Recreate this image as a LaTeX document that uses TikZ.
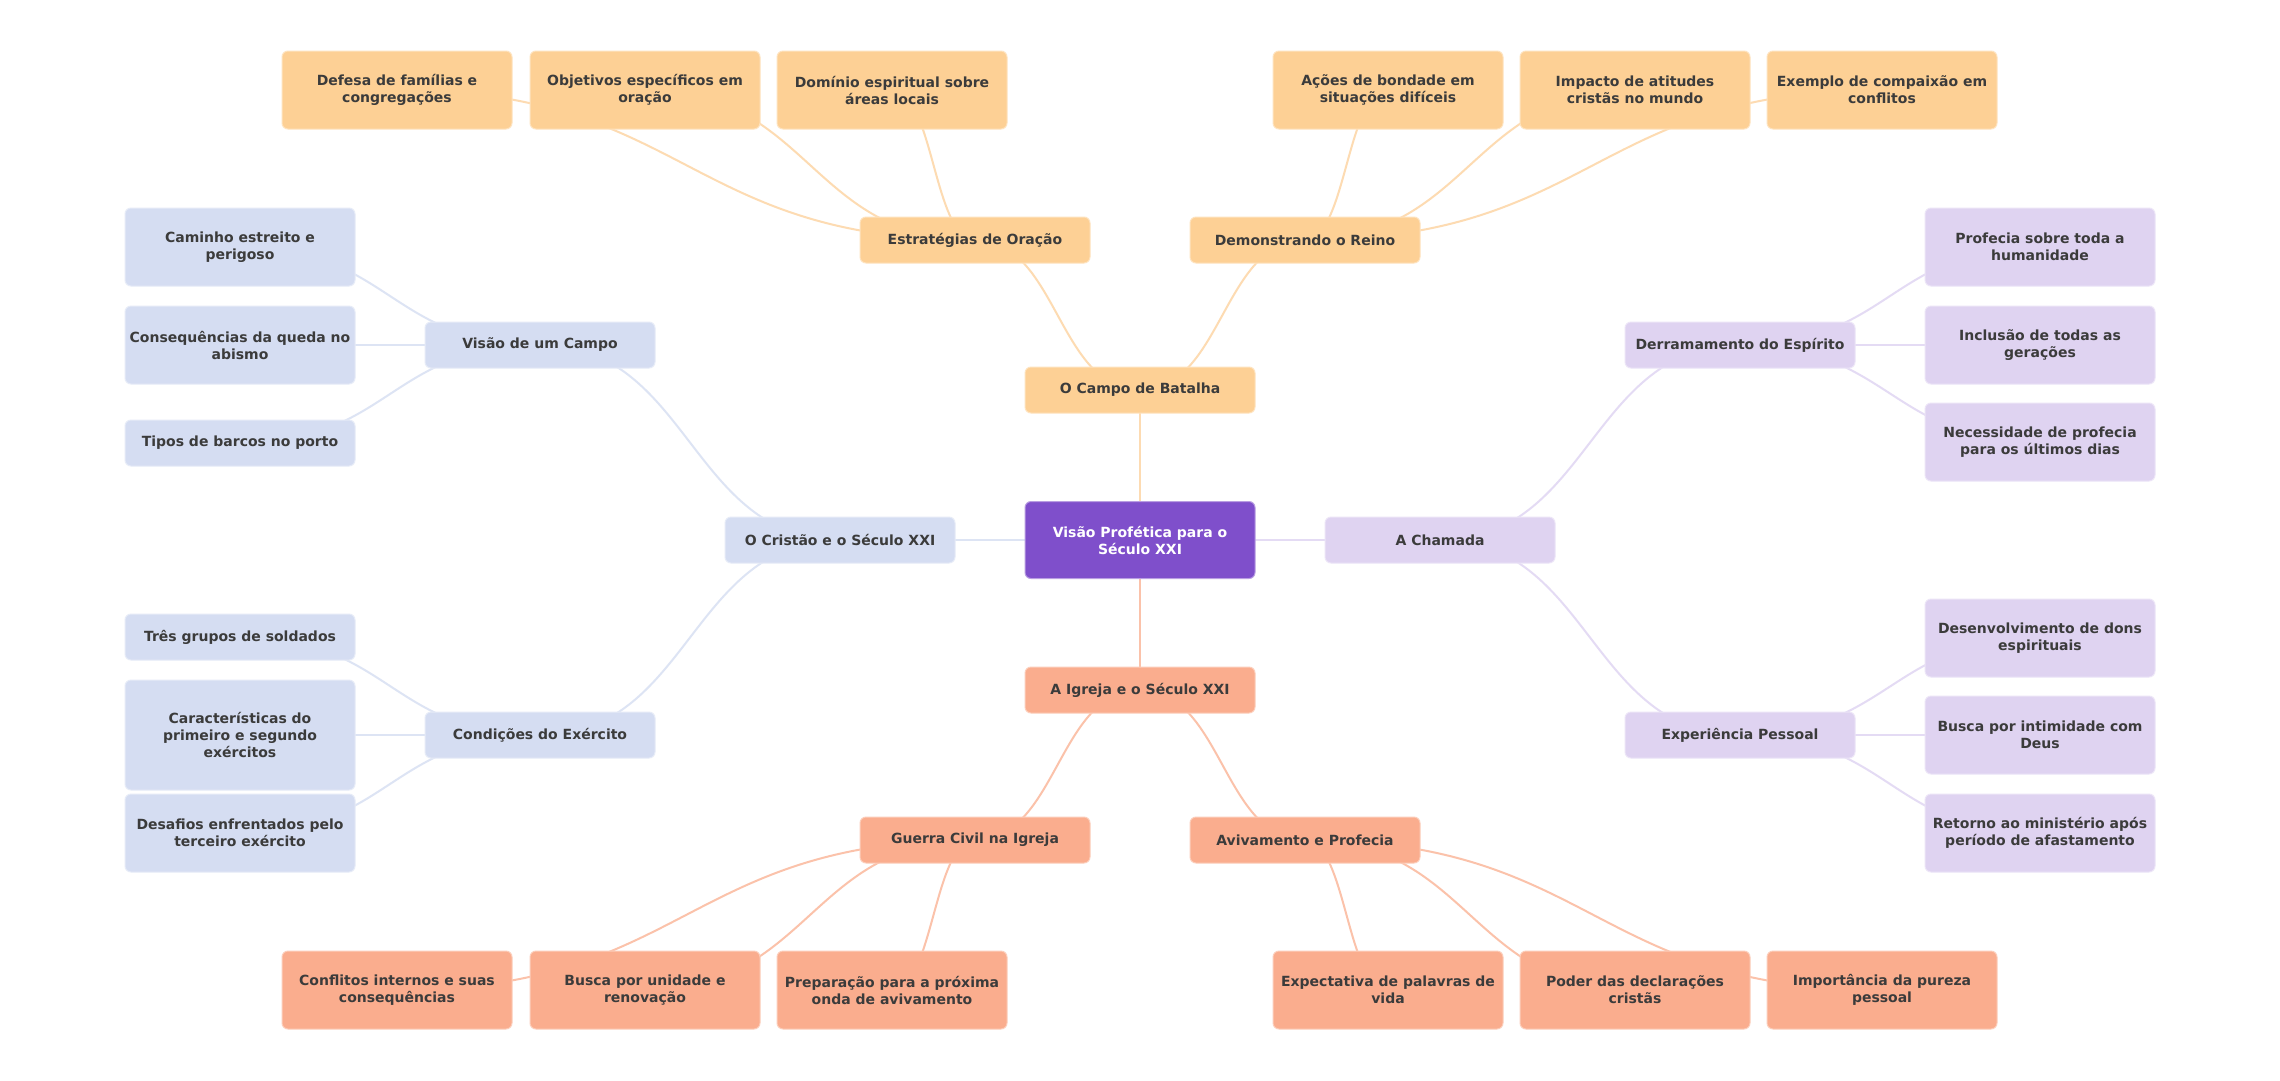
\documentclass[tikz,border=0pt]{standalone}
\usepackage{fontspec}
\setmainfont{DejaVu Sans}
\usetikzlibrary{backgrounds,calc}
\definecolor{txt}{HTML}{3B3B3B}
\definecolor{cpurple}{HTML}{7F4FCB}
\definecolor{corange}{HTML}{FDD095}
\definecolor{csalmon}{HTML}{FAAD8E}
\definecolor{cblue}{HTML}{D5DDF2}
\definecolor{clav}{HTML}{DFD3F1}
\definecolor{eorange}{HTML}{FDDBB2}
\definecolor{esalmon}{HTML}{FBC2AA}
\definecolor{eblue}{HTML}{DDE4F4}
\definecolor{elav}{HTML}{E4DBF4}
\tikzset{
  box/.style={rounded corners=6pt, minimum width=230pt, minimum height=46pt,
    inner xsep=3pt, align=center, text=txt, line width=1pt,
    font=\fontsize{14}{17}\selectfont\bfseries},
  leaf/.style={box, minimum height=78pt},
  ob/.style={fill=corange, draw=corange!60!white},
  sb/.style={fill=csalmon, draw=csalmon!60!white},
  bb/.style={fill=cblue, draw=cblue!60!white},
  lb/.style={fill=clav, draw=clav!60!white},
  rootbox/.style={box, fill=cpurple, draw=cpurple!55!white, text=white, minimum height=77pt},
  bump/.style={to path={let \p1=(\tikztostart), \p2=(\tikztotarget) in
    .. controls ({0.5*\x1+0.5*\x2},\y1) and ({0.5*\x1+0.5*\x2},\y2) .. (\tikztotarget)}},
  edge/.style={line width=2pt},
}
\begin{document}
\begin{tikzpicture}[x=1pt,y=-1pt]
\useasboundingbox (0,0) rectangle (2280,1080);
% root
\node[rootbox] (c) at (1140,540) {Visão Profética para o\\Século XXI};
% level 1
\node[box, ob] (campo) at (1140,390) {O Campo de Batalha};
\node[box, sb] (igreja) at (1140,690) {A Igreja e o Século XXI};
\node[box, bb] (cristao) at (840,540) {O Cristão e o Século XXI};
\node[box, lb] (chamada) at (1440,540) {A Chamada};
% level 2
\node[box, ob] (estr) at (975,240) {Estratégias de Oração};
\node[box, ob] (demo) at (1305,240) {Demonstrando o Reino};
\node[box, sb] (guerra) at (975,840) {Guerra Civil na Igreja};
\node[box, sb] (aviv) at (1305,840) {Avivamento e Profecia};
\node[box, bb] (visao) at (540,345) {Visão de um Campo};
\node[box, bb] (cond) at (540,735) {Condições do Exército};
\node[box, lb] (derr) at (1740,345) {Derramamento do Espírito};
\node[box, lb] (exper) at (1740,735) {Experiência Pessoal};
% top leaves
\node[leaf, ob] (t1) at (397,90) {Defesa de famílias e\\congregações};
\node[leaf, ob] (t2) at (645,90) {Objetivos específicos em\\oração};
\node[leaf, ob] (t3) at (892,90) {Domínio espiritual sobre\\áreas locais};
\node[leaf, ob] (t4) at (1388,90) {Ações de bondade em\\situações difíceis};
\node[leaf, ob] (t5) at (1635,90) {Impacto de atitudes\\cristãs no mundo};
\node[leaf, ob] (t6) at (1882,90) {Exemplo de compaixão em\\conflitos};
% bottom leaves
\node[leaf, sb] (b1) at (397,990) {Conflitos internos e suas\\consequências};
\node[leaf, sb] (b2) at (645,990) {Busca por unidade e\\renovação};
\node[leaf, sb] (b3) at (892,990) {Preparação para a próxima\\onda de avivamento};
\node[leaf, sb] (b4) at (1388,990) {Expectativa de palavras de\\vida};
\node[leaf, sb] (b5) at (1635,990) {Poder das declarações\\cristãs};
\node[leaf, sb] (b6) at (1882,990) {Importância da pureza\\pessoal};
% left leaves
\node[leaf, bb] (l1) at (240,247) {Caminho estreito e\\perigoso};
\node[leaf, bb] (l2) at (240,345) {Consequências da queda no\\abismo};
\node[box, bb] (l3) at (240,443) {Tipos de barcos no porto};
\node[box, bb] (l4) at (240,637) {Três grupos de soldados};
\node[leaf, bb, minimum height=110pt] (l5) at (240,735) {Características do\\primeiro e segundo\\exércitos};
\node[leaf, bb] (l6) at (240,833) {Desafios enfrentados pelo\\terceiro exército};
% right leaves
\node[leaf, lb] (r1) at (2040,247) {Profecia sobre toda a\\humanidade};
\node[leaf, lb] (r2) at (2040,345) {Inclusão de todas as\\gerações};
\node[leaf, lb] (r3) at (2040,442) {Necessidade de profecia\\para os últimos dias};
\node[leaf, lb] (r4) at (2040,638) {Desenvolvimento de dons\\espirituais};
\node[leaf, lb] (r5) at (2040,735) {Busca por intimidade com\\Deus};
\node[leaf, lb] (r6) at (2040,833) {Retorno ao ministério após\\período de afastamento};
\begin{pgfonlayer}{background}
\fill[white] (0,0) rectangle (2280,1080);
\begin{scope}[edge]
\draw[eorange] (c.center) to[bump] (campo.center);
\draw[esalmon] (c.center) to[bump] (igreja.center);
\draw[eblue] (c.center) to[bump] (cristao.center);
\draw[elav] (c.center) to[bump] (chamada.center);
\draw[eorange] (campo.center) to[bump] (estr.center);
\draw[eorange] (campo.center) to[bump] (demo.center);
\draw[esalmon] (igreja.center) to[bump] (guerra.center);
\draw[esalmon] (igreja.center) to[bump] (aviv.center);
\draw[eblue] (cristao.center) to[bump] (visao.center);
\draw[eblue] (cristao.center) to[bump] (cond.center);
\draw[elav] (chamada.center) to[bump] (derr.center);
\draw[elav] (chamada.center) to[bump] (exper.center);
\foreach \k in {t1,t2,t3} \draw[eorange] (estr.center) to[bump] (\k.center);
\foreach \k in {t4,t5,t6} \draw[eorange] (demo.center) to[bump] (\k.center);
\foreach \k in {b1,b2,b3} \draw[esalmon] (guerra.center) to[bump] (\k.center);
\foreach \k in {b4,b5,b6} \draw[esalmon] (aviv.center) to[bump] (\k.center);
\foreach \k in {l1,l2,l3} \draw[eblue] (visao.center) to[bump] (\k.center);
\foreach \k in {l4,l5,l6} \draw[eblue] (cond.center) to[bump] (\k.center);
\foreach \k in {r1,r2,r3} \draw[elav] (derr.center) to[bump] (\k.center);
\foreach \k in {r4,r5,r6} \draw[elav] (exper.center) to[bump] (\k.center);
\end{scope}
\end{pgfonlayer}
\end{tikzpicture}
\end{document}
